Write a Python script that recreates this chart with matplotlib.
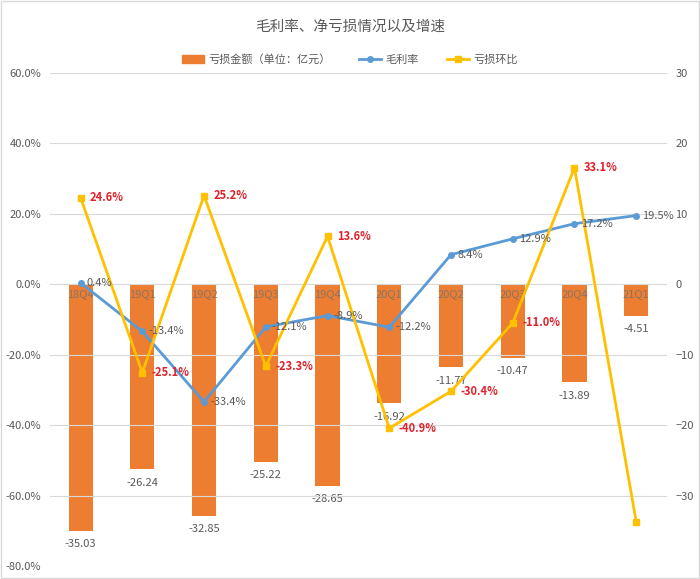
import matplotlib.pyplot as plt
from matplotlib.patches import Patch, Rectangle
from matplotlib.lines import Line2D

plt.rcParams['font.family'] = ['Noto Sans CJK SC', 'DejaVu Sans']

quarters = ['18Q4', '19Q1', '19Q2', '19Q3', '19Q4', '20Q1', '20Q2', '20Q3', '20Q4', '21Q1']
loss = [-35.03, -26.24, -32.85, -25.22, -28.65, -16.92, -11.77, -10.47, -13.89, -4.51]
margin = [0.4, -13.4, -33.4, -12.1, -8.9, -12.2, 8.4, 12.9, 17.2, 19.5]
loss_qoq = [24.6, -25.1, 25.2, -23.3, 13.6, -40.9, -30.4, -11.0, 33.1, -67.5]

orange = '#ED7D31'
blue = '#5B9BD5'
yellow = '#FFC000'
grey = '#595959'

fig = plt.figure(figsize=(7, 5.79), dpi=100)
ax = fig.add_axes([0.071, 0.0225, 0.882, 0.8515])
ax2 = ax.twinx()
ax.set_zorder(ax2.get_zorder() + 1)
ax.patch.set_visible(False)

x = list(range(len(quarters)))

# bars on right axis
ax2.bar(x, loss, width=0.39, color=orange, zorder=2)
for i, v in enumerate(loss):
    ax2.text(i, v - 1.2, f'{v:.2f}', ha='center', va='top', fontsize=8, color=grey)
    ax2.text(i, -0.75, quarters[i], ha='center', va='top', fontsize=8, color='#8a7565')

ax2.set_ylim(-40, 30)
ax2.set_yticks([-30, -20, -10, 0, 10, 20, 30])
ax2.tick_params(axis='y', length=0, labelsize=8, labelcolor=grey, pad=6)

# lines on left axis
ax.plot(x, margin, color=blue, lw=2, marker='o', ms=4, zorder=3)
ax.plot(x, loss_qoq, color=yellow, lw=2, marker='s', ms=4, zorder=4)
for i, v in enumerate(margin):
    ax.text(i + 0.1, v, f'{v:.1f}%', ha='left', va='center', fontsize=8, color=grey, zorder=5)
for i, v in enumerate(loss_qoq[:-1]):
    ax.text(i + 0.15, v, f'{v:.1f}%', ha='left', va='center', fontsize=8,
            color='#E0202A', fontweight='bold', zorder=5)

ax.set_xlim(-0.5, len(quarters) - 0.5)
ax.set_ylim(-80, 60)
ax.set_yticks(range(-80, 61, 20))
ax.set_yticklabels([f'{t:.1f}%' for t in range(-80, 61, 20)])
ax.tick_params(axis='y', length=0, labelsize=8, labelcolor=grey, pad=6)
ax.set_xticks([])
ax.grid(axis='y', color='#D9D9D9', lw=0.8)
ax.set_axisbelow(True)

for a in (ax, ax2):
    for s in a.spines.values():
        s.set_visible(False)

fig.patches.append(Rectangle((0.002, 0.002), 0.996, 0.996, transform=fig.transFigure,
                             fill=False, edgecolor='#D9D9D9', lw=1))

fig.text(0.5, 0.953, '毛利率、净亏损情况以及增速', ha='center', va='center',
         fontsize=10.5, color=grey)

handles = [
    Patch(color=orange),
    Line2D([0], [0], color=blue, lw=2, marker='o', ms=4),
    Line2D([0], [0], color=yellow, lw=2, marker='s', ms=4),
]
labels = ['亏损金额（单位：亿元）', '毛利率', '亏损环比']
fig.legend(handles, labels, loc='center', bbox_to_anchor=(0.5, 0.897), ncol=3,
           frameon=False, fontsize=8, labelcolor=grey, handlelength=2,
           columnspacing=2.5, handletextpad=0.4)

fig.savefig('out.png', dpi=100)
